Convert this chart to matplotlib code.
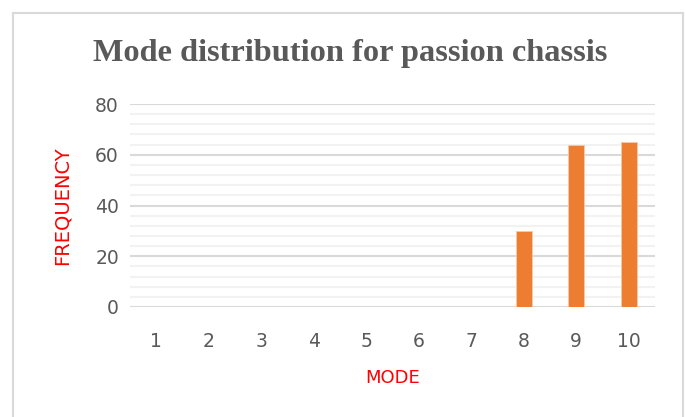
import numpy as np
import matplotlib.pyplot as plt
from matplotlib.patches import Rectangle

modes = [1, 2, 3, 4, 5, 6, 7, 8, 9, 10]
frequency = [0, 0, 0, 0, 0, 0, 0, 30, 64, 65]
tick_labels = [str(m) for m in modes]

W, H = 686, 417
fig = plt.figure(figsize=(W / 100, H / 100), dpi=100)
ax = fig.add_axes([130 / W, 1 - 307 / H, 525 / W, 203 / H])

# chart frame (bottom edge runs off the image)
fig.patches.append(Rectangle((13 / W, -0.05), 670 / W, 1.05 - 13 / H, transform=fig.transFigure,
                             fill=False, edgecolor='#d9d9d9', linewidth=1.5))

x = np.arange(len(modes))
ax.bar(x, frequency, width=0.31, color='#ED7D31', edgecolor='#f8c9a8', linewidth=0.6, zorder=3)

ax.set_ylim(0, 80)
ax.set_xlim(-0.5, len(modes) - 0.5)
ax.set_yticks(np.arange(0, 81, 20))
ax.set_yticks(np.arange(0, 81, 4), minor=True)
ax.set_xticks(x)
ax.set_xticklabels(tick_labels)

ax.grid(axis='y', which='minor', color='#f2f2f2', linewidth=1.5, zorder=0)
ax.grid(axis='y', which='major', color='#d9d9d9', linewidth=1.5, zorder=1)
ax.tick_params(which='both', length=0)
ax.tick_params(axis='both', labelsize=13.5, labelcolor='#595959')
ax.tick_params(axis='x', pad=18)
ax.tick_params(axis='y', pad=8)
for s in ax.spines.values():
    s.set_visible(False)

ax.set_ylabel('FREQUENCY', color='red', fontsize=14, labelpad=17)
ax.set_xlabel('MODE', color='red', fontsize=13, labelpad=13)

fig.text(350 / W, 1 - 53 / H, 'Mode distribution for passion chassis', ha='center', va='center',
         fontfamily='Liberation Serif', fontweight='bold', fontsize=23.3, color='#595959')

fig.savefig('out.png', dpi=100)
